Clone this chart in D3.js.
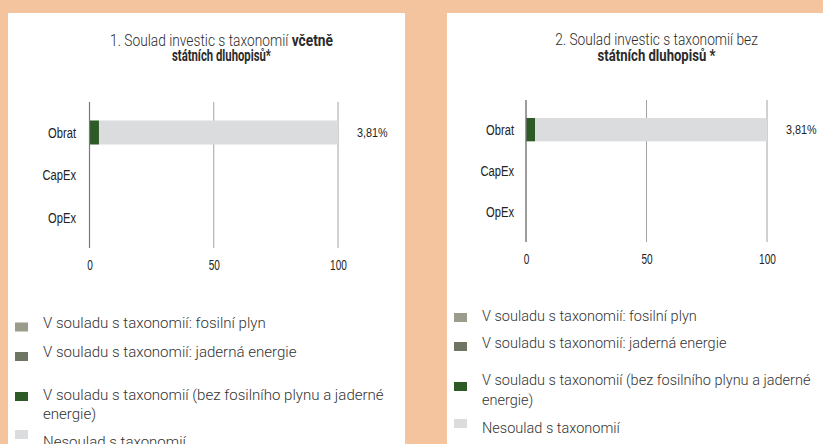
<!DOCTYPE html>
<html>
<head>
<meta charset="utf-8">
<script src="https://cdn.jsdelivr.net/npm/d3@7"></script>
<style>
  body { margin: 0; background: #f3c49d; }
  svg { display: block; }
</style>
</head>
<body>
<svg id="chart" width="823" height="444"></svg>
<script>
// ---- data ----
const categories = ["Obrat", "CapEx", "OpEx"];
const seriesNames = [
  "V souladu s taxonomií: fosilní plyn",
  "V souladu s taxonomií: jaderná energie",
  "V souladu s taxonomií (bez fosilního plynu a jaderné energie)",
  "Nesoulad s taxonomií"
];
const seriesKeys = ["fossil", "nuclear", "aligned", "notAligned"];
const tickValues = [0, 50, 100];

// 1. including sovereign bonds
const fossilGas1 = [0, null, null];
const nuclear1 = [0, null, null];
const aligned1 = [3.81, null, null];
const notAligned1 = [96.19, null, null];

// 2. excluding sovereign bonds
const fossilGas2 = [0, null, null];
const nuclear2 = [0, null, null];
const aligned2 = [3.81, null, null];
const notAligned2 = [96.19, null, null];

const title1 = [
  [{ text: "1. Soulad investic s taxonomií ", bold: false }, { text: "včetně", bold: true }],
  [{ text: "státních dluhopisů*", bold: true }]
];
const title2 = [
  [{ text: "2. Soulad investic s taxonomií bez", bold: false }],
  [{ text: "státních dluhopisů *", bold: true }]
];

// ---- styles / layout ----
const colors = ["#9b9c8c", "#6f7563", "#2e5a28", "#dbdcdd"];
const chartK = 0.77; // horizontal squeeze of the chart texts

const panels = [
  {
    title: title1, data: [fossilGas1, nuclear1, aligned1, notAligned1],
    left: 8, top: 13, width: 397,
    titleX: 221.5, titleY: [45.5, 61], titleW: [223, 99],
    xRange: [89.5, 338], grid: [102, 248], labelX: 76,
    legend: { squareX: 15, textX: 43, squareY: [322.5, 352, 392, 430],
              baseY: [328, 357, 400, 447], lineGap: 19, firstW: 223, maxW: 358 }
  },
  {
    title: title2, data: [fossilGas2, nuclear2, aligned2, notAligned2],
    left: 447, top: 13, width: 376,
    titleX: 656.5, titleY: [45, 61], titleW: [203, 118],
    xRange: [526, 767], grid: [100, 242], labelX: 514,
    legend: { squareX: 454, textX: 482, squareY: [313, 342, 382, 419],
              baseY: [321, 348, 385, 433], lineGap: 20, firstW: 215, maxW: 345 }
  }
];

const svg = d3.select("#chart");
const fmtPct = v => d3.format(".2f")(v).replace(".", ",") + "%";

panels.forEach(p => {
  const g = svg.append("g");

  g.append("rect")
    .attr("x", p.left).attr("y", p.top)
    .attr("width", p.width).attr("height", 444 - p.top)
    .attr("fill", "#fff");

  // title, squeezed to the condensed look of the original
  p.title.forEach((line, li) => {
    const t = g.append("text")
      .attr("text-anchor", "middle")
      .attr("font-family", "Roboto")
      .attr("font-size", 17)
      .attr("fill", "#2b2b2b");
    line.forEach(seg => t.append("tspan")
      .attr("font-weight", seg.bold ? 700 : 300)
      .text(seg.text));
    const nat = t.node().getComputedTextLength();
    t.attr("transform", `translate(${p.titleX},${p.titleY[li]}) scale(${p.titleW[li] / nat},1)`);
  });

  // scales
  const x = d3.scaleLinear().domain([0, 100]).range(p.xRange);
  const y = d3.scaleBand().domain(categories).range(p.grid).padding(0.435);

  // gridlines
  g.selectAll(".grid")
    .data(tickValues)
    .enter()
    .append("line")
    .attr("x1", d => x(d)).attr("x2", d => x(d))
    .attr("y1", p.grid[0]).attr("y2", p.grid[1])
    .attr("stroke", "#a2a2a2")
    .attr("stroke-width", 1);

  // stacked bars
  const rows = categories.map((c, i) => {
    const r = { cat: c, empty: p.data.every(s => s[i] == null) };
    seriesKeys.forEach((k, si) => (r[k] = p.data[si][i] ?? 0));
    return r;
  });
  const stacked = d3.stack().keys(seriesKeys)(rows);
  stacked.forEach((layer, si) => {
    g.selectAll(null)
      .data(layer.filter(d => d[1] - d[0] > 0))
      .enter()
      .append("rect")
      .attr("x", d => x(d[0]))
      .attr("width", d => x(d[1]) - x(d[0]))
      .attr("y", d => y(d.data.cat))
      .attr("height", y.bandwidth())
      .attr("fill", colors[si]);
  });

  // zero line on top
  g.append("line")
    .attr("x1", x(0)).attr("x2", x(0))
    .attr("y1", p.grid[0]).attr("y2", p.grid[1])
    .attr("stroke", "#7a7a7a")
    .attr("stroke-width", 1.2);

  // category labels
  g.selectAll(".cat")
    .data(categories)
    .enter()
    .append("text")
    .attr("text-anchor", "end")
    .attr("dy", "0.35em")
    .attr("font-family", "Liberation Sans, Arial, sans-serif")
    .attr("font-size", 14.5)
    .attr("fill", "#222")
    .attr("transform", d => `translate(${p.labelX},${y(d) + y.bandwidth() / 2}) scale(${chartK},1)`)
    .text(d => d);

  // value labels (share of taxonomy-aligned)
  g.selectAll(".val")
    .data(rows.filter(r => !r.empty))
    .enter()
    .append("text")
    .attr("dy", "0.35em")
    .attr("font-family", "Liberation Sans, Arial, sans-serif")
    .attr("font-size", 13.5)
    .attr("fill", "#222")
    .attr("transform", d => `translate(${x(100) + 19},${y(d.cat) + y.bandwidth() / 2}) scale(0.8,1)`)
    .text(d => fmtPct(d.aligned));

  // x axis
  const ax = g.append("g")
    .attr("transform", `translate(0,${p.grid[1]})`)
    .call(d3.axisBottom(x).tickValues(tickValues).tickSize(0).tickPadding(12.5));
  ax.select(".domain").remove();
  ax.selectAll("text")
    .attr("font-family", "Liberation Sans, Arial, sans-serif")
    .attr("font-size", 14)
    .attr("fill", "#222")
    .attr("transform", "scale(0.72,1)");

  // legend
  const lg = p.legend;
  const probe = g.append("text")
    .attr("font-family", "Roboto").attr("font-weight", 300).attr("font-size", 15)
    .text(seriesNames[0]);
  const legK = lg.firstW / probe.node().getComputedTextLength();
  const measure = s => probe.text(s).node().getComputedTextLength() * legK;

  seriesNames.forEach((name, i) => {
    // simple word wrap
    const lines = [];
    let cur = "";
    name.split(" ").forEach(w => {
      const tryLine = cur ? cur + " " + w : w;
      if (cur && measure(tryLine) > lg.maxW) { lines.push(cur); cur = w; }
      else cur = tryLine;
    });
    lines.push(cur);

    g.append("rect")
      .attr("x", lg.squareX).attr("y", lg.squareY[i])
      .attr("width", 13).attr("height", 9)
      .attr("fill", colors[i]);

    lines.forEach((ln, j) => {
      g.append("text")
        .attr("font-family", "Roboto").attr("font-weight", 300).attr("font-size", 15)
        .attr("fill", "#333")
        .attr("transform", `translate(${lg.textX},${lg.baseY[i] + j * lg.lineGap}) scale(${legK},1)`)
        .text(ln);
    });
  });
  probe.remove();
});
</script>
</body>
</html>
